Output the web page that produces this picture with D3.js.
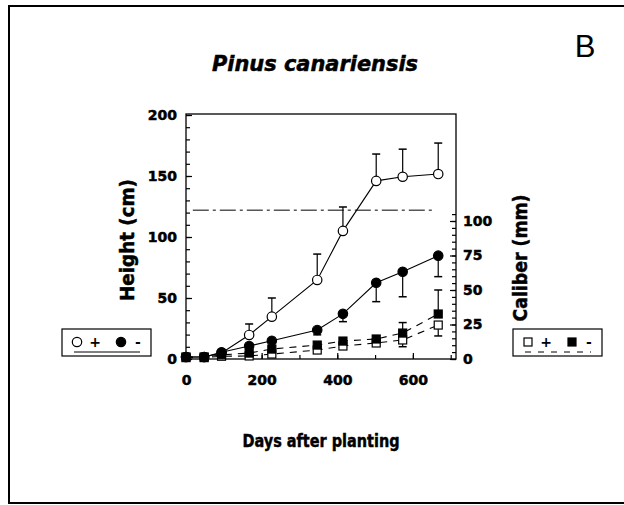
<!DOCTYPE html>
<html>
<head>
<meta charset="utf-8">
<title>Pinus canariensis</title>
<script src="https://cdn.jsdelivr.net/npm/d3@7/dist/d3.min.js"></script>
<style>
  body { margin: 0; background: #fff; }
  text { font-family: "DejaVu Sans", sans-serif; font-weight: bold; fill: #000; }
  .heavy { stroke: #000; stroke-width: 0.5px; }
</style>
</head>
<body>
<div id="chart"></div>
<script>
// days after planting
var days = [0, 48, 94, 167, 227, 347, 415, 503, 573, 667];
// height (cm), watered (+) and not watered (-)
var heightPlus  = [1.6, 1.6, 5, 19.7, 34.7, 64.8, 105, 146, 149.4, 151.6];
var heightPlusSd = [0, 0, 0, 9, 15.3, 21.2, 19.6, 22, 22.6, 25.4];
var heightMinus = [1.6, 1.6, 5.5, 10.7, 15, 23.8, 37, 62.5, 71.5, 84.7];
var heightMinusSd = [0, 0, 0, 0, 0, 4, 6.4, 15.5, 20.5, 17.2];
// caliber (mm)
var caliberPlus  = [1, 1, 2, 2.2, 3.6, 6.5, 9.4, 11.6, 13.8, 24.6];
var caliberPlusSd = [0, 0, 0, 0, 0, 0, 0, 0, 4.9, 7.9];
var caliberMinus = [1.5, 1.5, 3, 4.3, 7.2, 10.1, 13, 14.5, 18.8, 32.6];
var caliberMinusSd = [0, 0, 0, 0, 0, 0, 0, 0, 7.6, 17.4];
// dash-dot reference line (cm)
var refHeight = 122;
var refDays = [18, 650];
// tick labels
var xTicks = [0, 200, 400, 600];
var yLeftTicks = [0, 50, 100, 150, 200];
var yRightTicks = [0, 25, 50, 75, 100];

var width = 624, height = 505;
var svg = d3.select("#chart").append("svg")
    .attr("width", width)
    .attr("height", height);

// page frame
svg.append("path")
    .attr("d", "M624,6 H9 V503 H624")
    .attr("fill", "none").attr("stroke", "#000").attr("stroke-width", 2);

var x = d3.scaleLinear().domain([0, 714]).range([186, 456]);
var yL = d3.scaleLinear().domain([0, 200]).range([359, 115]);
var yR = d3.scaleLinear().domain([0, 100]).range([359, 221]);

// plot box
svg.append("rect")
    .attr("x", 186).attr("y", 114).attr("width", 270).attr("height", 245)
    .attr("fill", "none").attr("stroke", "#000").attr("stroke-width", 1.3);

// minor ticks
svg.append("g").attr("transform", "translate(186,0)")
    .call(d3.axisLeft(yL).tickValues(d3.range(0, 201, 10)).tickSize(-4).tickFormat(""))
    .call(function(g) { g.select(".domain").remove(); });
svg.append("g").attr("transform", "translate(456,0)")
    .call(d3.axisRight(yR).tickValues(d3.range(0, 106, 5)).tickSize(-4).tickFormat(""))
    .call(function(g) { g.select(".domain").remove(); });
svg.append("g").attr("transform", "translate(0,359)")
    .call(d3.axisBottom(x).tickValues(d3.range(0, 701, 100)).tickSize(-4).tickFormat(""))
    .call(function(g) { g.select(".domain").remove(); });

// labelled axes
var gl = svg.append("g").attr("transform", "translate(186,0)")
    .call(d3.axisLeft(yL).tickValues(yLeftTicks).tickSize(-6).tickPadding(9));
var gr = svg.append("g").attr("transform", "translate(456,0)")
    .call(d3.axisRight(yR).tickValues(yRightTicks).tickSize(-6).tickPadding(7));
var gb = svg.append("g").attr("transform", "translate(0,359)")
    .call(d3.axisBottom(x).tickValues(xTicks).tickSize(-6).tickPadding(16));
[gl, gr, gb].forEach(function(g) {
  g.select(".domain").remove();
  g.selectAll("text").attr("class", "heavy")
      .style("font-size", "14px").style("font-family", "DejaVu Sans").style("font-weight", "bold");
});
svg.selectAll(".tick line").attr("stroke", "#000").attr("stroke-width", 1.2);

// reference line
svg.append("line")
    .attr("x1", x(refDays[0])).attr("x2", x(refDays[1]))
    .attr("y1", yL(refHeight)).attr("y2", yL(refHeight))
    .attr("stroke", "#000").attr("stroke-width", 1)
    .attr("stroke-dasharray", "16,4,3,4");

var series = [
  {vals: heightPlus, sd: heightPlusSd, dir: 1, y: yL, shape: "circle", fill: "#fff", dash: null},
  {vals: heightMinus, sd: heightMinusSd, dir: -1, y: yL, shape: "circle", fill: "#000", dash: null},
  {vals: caliberPlus, sd: caliberPlusSd, dir: -1, y: yR, shape: "square", fill: "#fff", dash: "7,6"},
  {vals: caliberMinus, sd: caliberMinusSd, dir: 1, y: yR, shape: "square", fill: "#000", dash: "7,6"}
];

series.forEach(function(s) {
  var line = d3.line().x(function(d, i) { return x(days[i]); }).y(function(d) { return s.y(d); });
  svg.append("path").datum(s.vals)
      .attr("d", line)
      .attr("fill", "none").attr("stroke", "#000").attr("stroke-width", 1.1)
      .attr("stroke-dasharray", s.dash);
});

series.forEach(function(s) {
  var g = svg.append("g");
  s.vals.forEach(function(v, i) {
    if (!s.sd[i]) return;
    var y0 = s.y(v), y1 = s.y(v + s.dir * s.sd[i]);
    g.append("line").attr("x1", x(days[i])).attr("x2", x(days[i]))
        .attr("y1", y0).attr("y2", y1).attr("stroke", "#000").attr("stroke-width", 1.2);
    g.append("line").attr("x1", x(days[i]) - 4).attr("x2", x(days[i]) + 4)
        .attr("y1", y1).attr("y2", y1).attr("stroke", "#000").attr("stroke-width", 1.5);
  });
});

function marker(g, shape, fill, cx, cy) {
  if (shape === "circle") {
    g.append("circle").attr("cx", cx).attr("cy", cy).attr("r", 4.7)
        .attr("fill", fill).attr("stroke", "#000").attr("stroke-width", 1.2);
  } else {
    g.append("rect").attr("x", cx - 4).attr("y", cy - 4).attr("width", 8).attr("height", 8)
        .attr("fill", fill).attr("stroke", "#000").attr("stroke-width", 1.2);
  }
}

series.forEach(function(s) {
  var g = svg.append("g");
  s.vals.forEach(function(v, i) { marker(g, s.shape, s.fill, x(days[i]), s.y(v)); });
});

// titles
svg.append("text").attr("class", "heavy").attr("x", 315).attr("y", 71).attr("text-anchor", "middle")
    .style("font-size", "22px").style("font-style", "italic")
    .attr("textLength", 206).attr("lengthAdjust", "spacingAndGlyphs")
    .text("Pinus canariensis");
svg.append("text").attr("x", 585).attr("y", 57).attr("text-anchor", "middle")
    .style("font-size", "31px").style("font-weight", "normal").style("font-family", "Liberation Sans")
    .text("B");
svg.append("text").attr("class", "heavy").attr("x", 321).attr("y", 447).attr("text-anchor", "middle")
    .style("font-size", "18px")
    .attr("textLength", 157).attr("lengthAdjust", "spacingAndGlyphs")
    .text("Days after planting");
svg.append("text").attr("class", "heavy").attr("transform", "translate(134,240) rotate(-90)").attr("text-anchor", "middle")
    .style("font-size", "19px")
    .attr("textLength", 122).attr("lengthAdjust", "spacingAndGlyphs")
    .text("Height (cm)");
svg.append("text").attr("class", "heavy").attr("transform", "translate(527,258) rotate(-90)").attr("text-anchor", "middle")
    .style("font-size", "19px")
    .attr("textLength", 127).attr("lengthAdjust", "spacingAndGlyphs")
    .text("Caliber (mm)");

// legends
function legend(x0, shape, dash) {
  var g = svg.append("g");
  g.append("rect").attr("x", x0).attr("y", 329).attr("width", 89).attr("height", 27)
      .attr("fill", "#fff").attr("stroke", "#000").attr("stroke-width", 1.2);
  marker(g, shape, "#fff", x0 + 15, 342);
  g.append("text").attr("x", x0 + 33).attr("y", 347).attr("text-anchor", "middle").style("font-size", "14px").text("+");
  marker(g, shape, "#000", x0 + 59, 342);
  g.append("text").attr("x", x0 + 76).attr("y", 347).attr("text-anchor", "middle").style("font-size", "14px").text("-");
  g.append("line").attr("x1", x0 + 12).attr("x2", x0 + 78).attr("y1", 352).attr("y2", 352)
      .attr("stroke", "#000").attr("stroke-width", 1).attr("stroke-dasharray", dash);
}
legend(62, "circle", null);
legend(513, "square", "6,7");
</script>
</body>
</html>
